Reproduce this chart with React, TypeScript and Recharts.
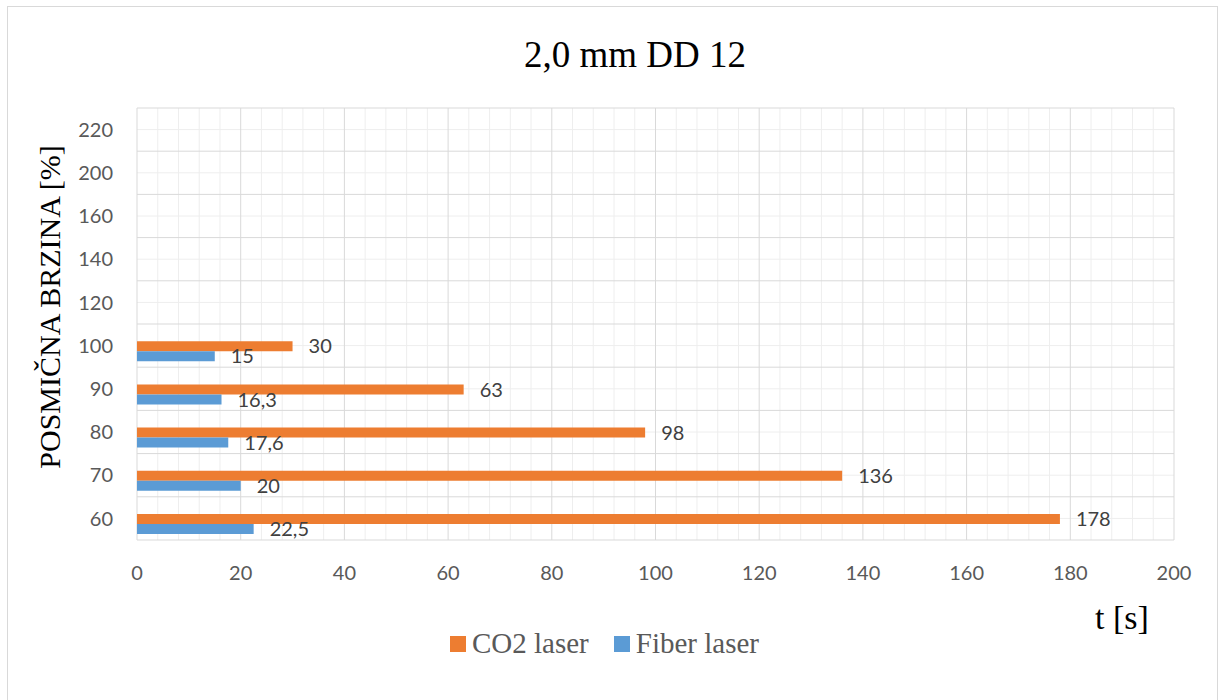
import React from "react";
import {
  BarChart,
  Bar,
  XAxis,
  YAxis,
  CartesianGrid,
  LabelList,
} from "recharts";

// Feed rate categories (bottom to top) and cutting time per laser
const speeds = [60, 70, 80, 90, 100, 120, 140, 160, 200, 220];
const co2Times: (number | null)[] = [178, 136, 98, 63, 30, null, null, null, null, null];
const fiberTimes: (number | null)[] = [22.5, 20, 17.6, 16.3, 15, null, null, null, null, null];

// Axis ticks
const timeTicks = [0, 20, 40, 60, 80, 100, 120, 140, 160, 180, 200];
const timeMinorTicks = [
  4, 8, 12, 16, 24, 28, 32, 36, 44, 48, 52, 56, 64, 68, 72, 76, 84, 88, 92, 96,
  104, 108, 112, 116, 124, 128, 132, 136, 144, 148, 152, 156, 164, 168, 172, 176,
  184, 188, 192, 196,
];

type Row = { speed: string; co2: number | null; fiber: number | null };

const data: Row[] = speeds.map((s, i) => ({
  speed: String(s),
  co2: co2Times[i],
  fiber: fiberTimes[i],
}));

const series = [
  { key: "co2", name: "CO2 laser", color: "#ED7D31" },
  { key: "fiber", name: "Fiber laser", color: "#5B9BD5" },
];

const SANS = "Lato, 'Open Sans', sans-serif";
const SERIF = "'Liberation Serif', 'DejaVu Serif', serif";

const commaNumber = (v: any) =>
  v === null || v === undefined ? "" : String(v).replace(".", ",");

// Horizontal grid: major lines on category borders, minor ones through the middle
const bandLines = (shift: number) => ({ offset }: any) => {
  const n = speeds.length;
  const step = offset.height / n;
  const out: number[] = [];
  for (let i = 0; i <= n - shift; i++) out.push(offset.top + (i + shift / 2) * step);
  return out;
};

// Legend drawn below the plot, Excel style squares
const ChartLegend = () => (
  <div
    style={{
      position: "absolute",
      left: 450,
      top: 629,
      display: "flex",
      alignItems: "center",
      fontFamily: SERIF,
      fontSize: 29,
      color: "#595959",
      lineHeight: 1,
    }}
  >
    {series.map((s) => (
      <div
        key={s.key}
        style={{ display: "flex", alignItems: "center", marginRight: 25 }}
      >
        <span
          style={{
            display: "inline-block",
            width: 16,
            height: 16,
            background: s.color,
            marginRight: 6,
          }}
        />
        <span>{s.name}</span>
      </div>
    ))}
  </div>
);

export default function App() {
  return (
    <div
      style={{
        position: "relative",
        width: 1225,
        height: 700,
        overflow: "hidden",
        background: "#fff",
      }}
    >
      <style>{"body{margin:0}"}</style>

      {/* chart frame */}
      <div
        style={{
          position: "absolute",
          left: 7,
          top: 6,
          width: 1209,
          height: 720,
          border: "1.5px solid #d9d9d9",
        }}
      />

      <div
        style={{
          position: "absolute",
          left: 0,
          width: 1270,
          top: 36,
          textAlign: "center",
          fontFamily: SERIF,
          fontSize: 37,
          lineHeight: 1,
          color: "#000",
        }}
      >
        2,0 mm DD 12
      </div>

      <div
        style={{
          position: "absolute",
          left: 50,
          top: 307,
          transform: "translate(-50%, -50%) rotate(-90deg)",
          whiteSpace: "nowrap",
          fontFamily: SERIF,
          fontSize: 30,
          lineHeight: 1,
          color: "#000",
        }}
      >
        POSMIČNA BRZINA [%]
      </div>

      <div
        style={{
          position: "absolute",
          left: 1095,
          top: 601,
          fontFamily: SERIF,
          fontSize: 34,
          lineHeight: 1,
          color: "#000",
        }}
      >
        t [s]
      </div>

      <div style={{ position: "absolute", left: 0, top: 0 }}>
        <BarChart
          width={1225}
          height={700}
          data={data}
          layout="vertical"
          margin={{ top: 108, right: 51, bottom: 130, left: 77 }}
          barCategoryGap="16.67%"
          barGap={0}
        >
          {/* minor grid */}
          <CartesianGrid
            xAxisId="main"
            yAxisId="cat"
            verticalValues={timeMinorTicks}
            horizontalCoordinatesGenerator={bandLines(1)}
            stroke="#eeeeee"
            strokeWidth={1}
          />
          {/* major grid */}
          <CartesianGrid
            xAxisId="main"
            yAxisId="cat"
            verticalValues={timeTicks}
            horizontalCoordinatesGenerator={bandLines(0)}
            stroke="#d9d9d9"
            strokeWidth={1}
          />

          <XAxis
            xAxisId="main"
            type="number"
            domain={[0, 200]}
            ticks={timeTicks}
            interval={0}
            axisLine={false}
            tickLine={false}
            tickMargin={20}
            tick={{ fill: "#595959", fontSize: 20, fontFamily: SANS }}
          />
          <YAxis
            yAxisId="cat"
            type="category"
            dataKey="speed"
            reversed
            width={60}
            axisLine={false}
            tickLine={false}
            tickMargin={18}
            interval={0}
            tick={{ fill: "#595959", fontSize: 20, fontFamily: SANS }}
          />

          {/* empty third slot, keeps Excel's bar placement */}
          <Bar
            dataKey="none"
            xAxisId="main"
            yAxisId="cat"
            fill="transparent"
            legendType="none"
            isAnimationActive={false}
          />
          {series.map((s) => (
            <Bar
              key={s.key}
              dataKey={s.key}
              name={s.name}
              xAxisId="main"
              yAxisId="cat"
              fill={s.color}
              isAnimationActive={false}
            >
              <LabelList
                dataKey={s.key}
                position="right"
                offset={16}
                fill="#404040"
                fontSize={20}
                fontFamily={SANS}
                formatter={commaNumber}
              />
            </Bar>
          ))}
        </BarChart>
      </div>

      <ChartLegend />
    </div>
  );
}
